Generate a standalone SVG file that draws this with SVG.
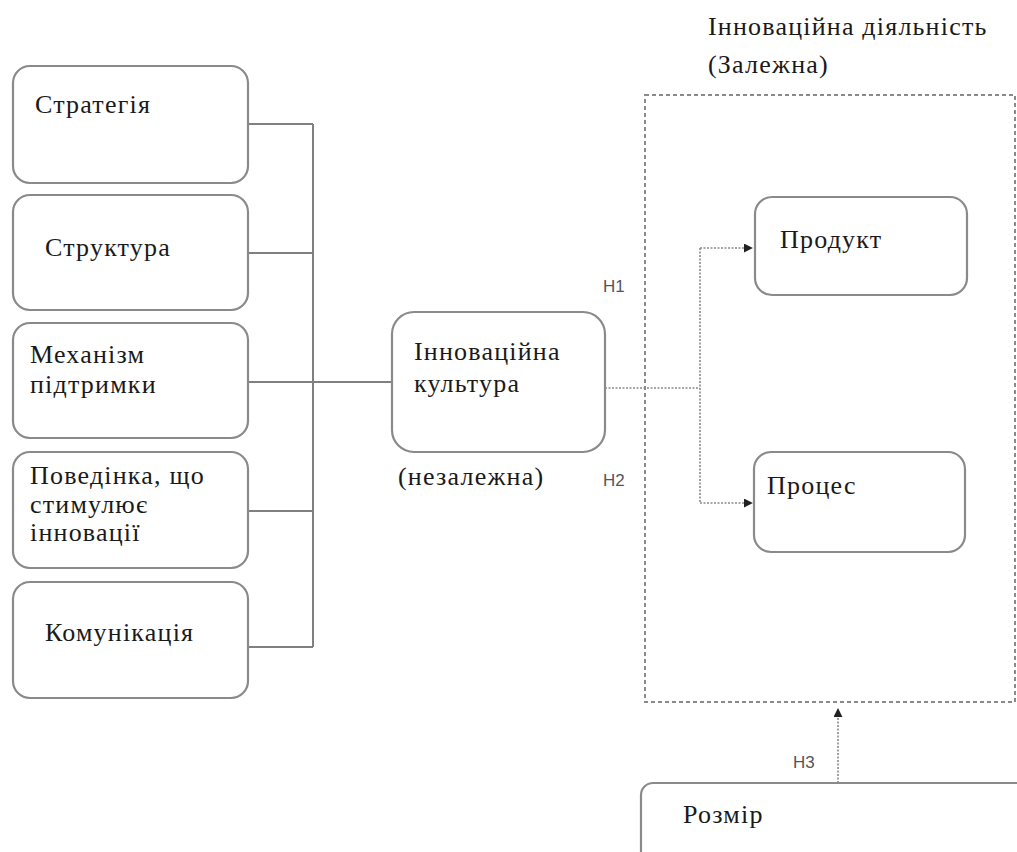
<svg xmlns="http://www.w3.org/2000/svg" width="1017" height="852" viewBox="0 0 1017 852">
<defs>
<style>
.box{fill:#fff;stroke:#8a8a8a;stroke-width:2.2}
.h{font-family:'Liberation Sans',Arial,sans-serif;font-size:17px;fill:#555;letter-spacing:0}
.solid{fill:none;stroke:#808080;stroke-width:2}
.dot{fill:none;stroke:#8a8a8a;stroke-width:1.6;stroke-dasharray:2 1.5}
.frame{fill:none;stroke:#8a8a8a;stroke-width:2;stroke-dasharray:4 3}
</style>
<marker id="ah" viewBox="0 0 10 10" refX="9" refY="5" markerWidth="9" markerHeight="9" markerUnits="userSpaceOnUse" orient="auto">
<path d="M0,0 L10,5 L0,10 z" fill="#222"/>
</marker>
</defs>
<rect width="1017" height="852" fill="#fff"/>
<g font-family="Liberation Serif, Times New Roman, DejaVu Serif, serif" font-size="26" letter-spacing="1.2" fill="#1a1a1a">
<g id="frame">
<rect class="frame" x="645" y="95" width="370" height="607"/>
<text x="708" y="35">Інноваційна діяльність</text>
<text x="708" y="73">(Залежна)</text>
</g>

<g id="connectors">
<path class="solid" d="M248,124 H313 M248,253 H313 M248,382 H392 M248,511 H313 M248,647 H313 M313,124 V647"/>
<path class="dot" d="M605,388 H700 M700,248 V503"/>
<path class="dot" d="M700,248 H752" marker-end="url(#ah)"/>
<path class="dot" d="M700,503 H752" marker-end="url(#ah)"/>
<path class="dot" d="M838,783 V709" marker-end="url(#ah)"/>
<text class="h" x="603" y="292">H1</text>
<text class="h" x="603" y="486">H2</text>
<text class="h" x="793" y="768">H3</text>
</g>

<g id="n1"><rect class="box" x="13" y="66" width="235" height="117" rx="17"/><text x="35" y="113">Стратегія</text></g>
<g id="n2"><rect class="box" x="13" y="195" width="235" height="115" rx="17"/><text x="45" y="256">Структура</text></g>
<g id="n3"><rect class="box" x="13" y="323" width="235" height="115" rx="17"/><text x="30" y="363">Механізм</text><text x="30" y="393">підтримки</text></g>
<g id="n4"><rect class="box" x="13" y="452" width="235" height="116" rx="17"/><text x="30" y="484">Поведінка, що</text><text x="30" y="513">стимулює</text><text x="30" y="541">інновації</text></g>
<g id="n5"><rect class="box" x="13" y="582" width="235" height="116" rx="17"/><text x="45" y="641">Комунікація</text></g>

<g id="culture"><rect class="box" x="392" y="312" width="213" height="140" rx="22"/><text x="414" y="360">Інноваційна</text><text x="414" y="392">культура</text><text x="398" y="485">(незалежна)</text></g>

<g id="product"><rect class="box" x="755" y="197" width="212" height="98" rx="17"/><text x="780" y="248">Продукт</text></g>
<g id="process"><rect class="box" x="754" y="452" width="211" height="100" rx="17"/><text x="767" y="494">Процес</text></g>
<g id="size"><rect class="box" x="641" y="783" width="390" height="80" rx="12"/><text x="683" y="823">Розмір</text></g>
</g>
</svg>
